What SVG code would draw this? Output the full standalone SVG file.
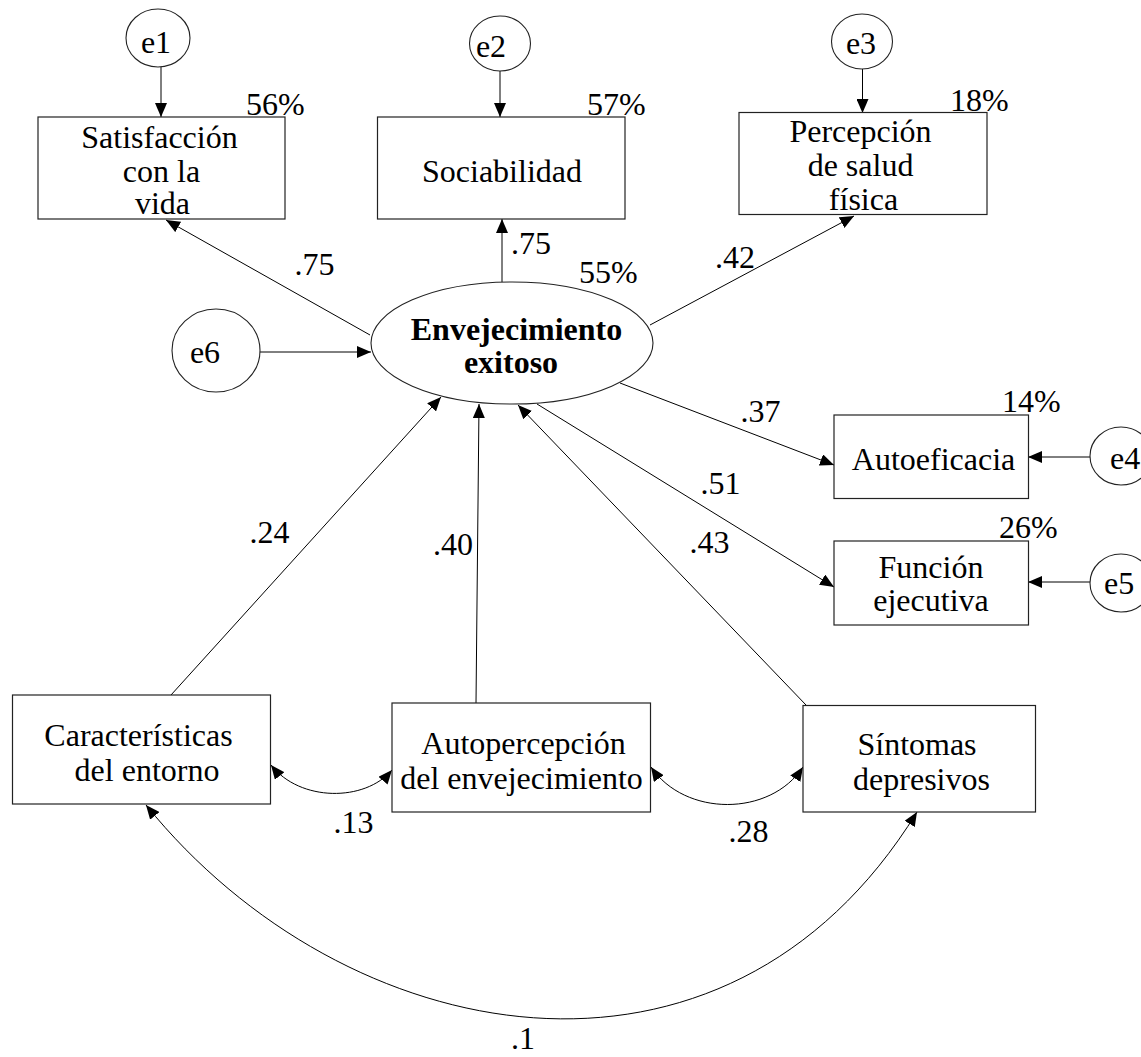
<svg xmlns="http://www.w3.org/2000/svg" width="1141" height="1057" viewBox="0 0 1141 1057">
  <style>
    .box { fill: #fff; stroke: #222; stroke-width: 1.2; }
    .lat { fill: #fff; stroke: #222; stroke-width: 1.1; }
    .t { font-family: "Liberation Serif", "Times New Roman", serif; font-size: 32px; fill: #000; }
    .tb { font-family: "Liberation Serif", "Times New Roman", serif; font-size: 32px; font-weight: bold; fill: #000; }
    .c { text-anchor: middle; }
    .edge { fill: none; stroke: #000; stroke-width: 1; }
    .arr { marker-end: url(#head); }
    .both { marker-start: url(#head); marker-end: url(#head); }
  </style>
  <defs>
    <marker id="head" viewBox="0 0 14 12" refX="14" refY="6" markerWidth="14" markerHeight="12" markerUnits="userSpaceOnUse" orient="auto-start-reverse">
      <path d="M0,0 L14,6 L0,12 z" fill="#000"/>
    </marker>
  </defs>
  <rect width="1141" height="1057" fill="#fff"/>

  <!-- paths, loadings and covariances -->
  <g id="connectors">
    <line class="edge arr" x1="161" y1="67" x2="161" y2="117"/>
    <line class="edge arr" x1="500" y1="71" x2="500" y2="117"/>
    <line class="edge arr" x1="862.5" y1="69" x2="862.5" y2="113"/>
    <line class="edge arr" x1="260" y1="352" x2="371" y2="352"/>
    <line class="edge arr" x1="1090" y1="457" x2="1028" y2="457"/>
    <line class="edge arr" x1="1090" y1="582" x2="1028" y2="582"/>

    <line class="edge arr" x1="370" y1="335" x2="166" y2="220"/>
    <line class="edge arr" x1="502" y1="282" x2="502" y2="219"/>
    <line class="edge arr" x1="650" y1="325" x2="854" y2="216"/>
    <line class="edge arr" x1="620" y1="383" x2="834" y2="465"/>
    <line class="edge arr" x1="537" y1="404" x2="834" y2="587"/>

    <line class="edge arr" x1="171" y1="695" x2="441" y2="397"/>
    <line class="edge arr" x1="476" y1="703" x2="479" y2="404"/>
    <line class="edge arr" x1="806" y1="705" x2="518" y2="405"/>

    <path class="edge both" d="M271,765 C300,802 365,802 392,770"/>
    <path class="edge both" d="M651,767 C685,817 770,817 803,767"/>
    <path class="edge both" d="M146,805 C344,1050 724,1125 917,812"/>
  </g>

  <g id="e1"><ellipse class="lat" cx="158" cy="38" rx="32" ry="29"/><text class="t c" x="156" y="53">e1</text></g>
  <g id="e2"><ellipse class="lat" cx="500" cy="43.5" rx="30.5" ry="27.5"/><text class="t c" x="491" y="57">e2</text></g>
  <g id="e3"><ellipse class="lat" cx="862" cy="41.5" rx="30.5" ry="27.5"/><text class="t c" x="861" y="54">e3</text></g>
  <g id="e6"><ellipse class="lat" cx="216" cy="350.5" rx="44" ry="41.5"/><text class="t c" x="205" y="363">e6</text></g>
  <g id="e4"><ellipse class="lat" cx="1121" cy="456" rx="31" ry="29"/><text class="t" x="1110" y="469">e4</text></g>
  <g id="e5"><ellipse class="lat" cx="1121" cy="583" rx="31" ry="29"/><text class="t" x="1104" y="594">e5</text></g>

  <g id="satisfaccion">
    <rect class="box" x="38" y="117" width="247" height="102"/>
    <text class="t c" x="159.5" y="148">Satisfacción</text>
    <text class="t c" x="161.5" y="181.5">con la</text>
    <text class="t c" x="162.5" y="214">vida</text>
    <text class="t" x="246" y="115">56%</text>
  </g>
  <g id="sociabilidad">
    <rect class="box" x="377.5" y="117" width="247.5" height="102"/>
    <text class="t c" x="502" y="181.5">Sociabilidad</text>
    <text class="t" x="587" y="115">57%</text>
  </g>
  <g id="percepcion">
    <rect class="box" x="739" y="112.5" width="248" height="102"/>
    <text class="t c" x="860.5" y="141.5">Percepción</text>
    <text class="t c" x="860.5" y="176">de salud</text>
    <text class="t c" x="863.5" y="210">física</text>
    <text class="t" x="950" y="110.5">18%</text>
  </g>
  <g id="envejecimiento">
    <ellipse class="lat" cx="512" cy="343" rx="141" ry="61"/>
    <text class="tb c" x="516.5" y="340">Envejecimiento</text>
    <text class="tb c" x="511" y="372.5">exitoso</text>
    <text class="t" x="579" y="283">55%</text>
  </g>
  <g id="autoeficacia">
    <rect class="box" x="834" y="415" width="194.5" height="83.5"/>
    <text class="t c" x="933.5" y="470">Autoeficacia</text>
    <text class="t" x="1002" y="411.5">14%</text>
  </g>
  <g id="funcion">
    <rect class="box" x="834" y="541" width="194.5" height="84"/>
    <text class="t c" x="931" y="578">Función</text>
    <text class="t c" x="931" y="610.5">ejecutiva</text>
    <text class="t" x="999" y="538">26%</text>
  </g>
  <g id="caracteristicas">
    <rect class="box" x="12.5" y="695" width="258" height="109"/>
    <text class="t c" x="138.5" y="745.5">Características</text>
    <text class="t c" x="147" y="781">del entorno</text>
  </g>
  <g id="autopercepcion">
    <rect class="box" x="392" y="703" width="258.5" height="109"/>
    <text class="t c" x="523.5" y="754">Autopercepción</text>
    <text class="t c" x="521.5" y="789">del envejecimiento</text>
  </g>
  <g id="sintomas">
    <rect class="box" x="803" y="705.5" width="232.5" height="106.5"/>
    <text class="t c" x="917" y="754.5">Síntomas</text>
    <text class="t c" x="921.5" y="790">depresivos</text>
  </g>

  <g id="coefficients">
    <text class="t" x="294.5" y="275">.75</text>
    <text class="t" x="511" y="254">.75</text>
    <text class="t" x="715" y="268">.42</text>
    <text class="t" x="740.5" y="421.5">.37</text>
    <text class="t" x="700.5" y="494">.51</text>
    <text class="t" x="249.5" y="543">.24</text>
    <text class="t" x="433" y="555">.40</text>
    <text class="t" x="689.5" y="553">.43</text>
    <text class="t" x="333.5" y="832.5">.13</text>
    <text class="t" x="728.5" y="842">.28</text>
    <text class="t" x="511" y="1049">.1</text>
  </g>
</svg>
